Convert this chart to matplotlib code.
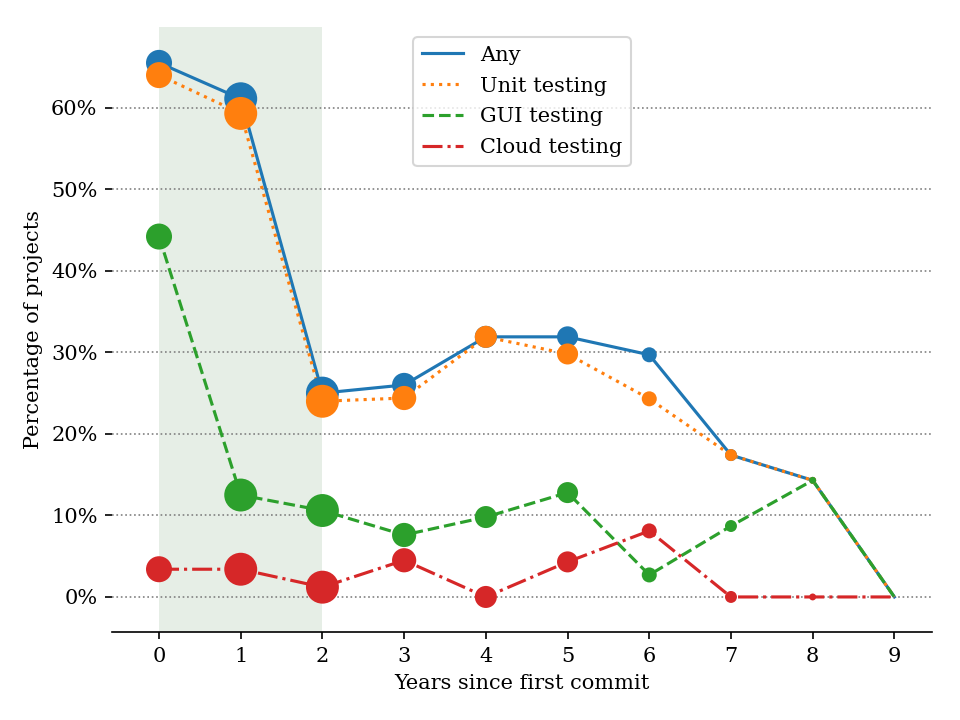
import matplotlib
matplotlib.use("Agg")
import matplotlib.pyplot as plt
from matplotlib.ticker import PercentFormatter

plt.rcParams["font.family"] = "DejaVu Serif"

# Years since first commit
years = [0, 1, 2, 3, 4, 5, 6, 7, 8, 9]

# Share of projects (fraction) per year
any_testing = [0.655, 0.611, 0.250, 0.260, 0.319, 0.319, 0.297, 0.174, 0.143, 0.0]
unit_testing = [0.640, 0.593, 0.240, 0.244, 0.319, 0.298, 0.243, 0.174, 0.143, 0.0]
gui_testing = [0.442, 0.125, 0.106, 0.076, 0.098, 0.128, 0.027, 0.087, 0.143, 0.0]
cloud_testing = [0.034, 0.034, 0.012, 0.045, 0.0, 0.043, 0.081, 0.0, 0.0, 0.0]

# Relative number of projects per year (used for marker area)
projects = [156, 250, 250, 135, 112, 102, 52, 33, 11, 0]

series = [
    ("Any", any_testing, "C0", "-"),
    ("Unit testing", unit_testing, "C1", ":"),
    ("GUI testing", gui_testing, "C2", "--"),
    ("Cloud testing", cloud_testing, "C3", "-."),
]

fig = plt.figure(figsize=(6.4, 4.8), dpi=150)
ax = fig.add_axes([0.1167, 0.1222, 0.8541, 0.8403])

# early period highlight
ax.axvspan(0, 2, color="#e6eee6", zorder=0, lw=0)

for label, values, color, ls in series:
    ax.plot(years, values, color=color, linestyle=ls, lw=1.5, label=label, zorder=2)
    ax.scatter(years, values, s=projects, color=color, zorder=3, linewidths=0)

ax.set_xlim(-0.575, 9.46)
ax.set_ylim(-0.043, 0.699)
ax.set_xticks(years)
ax.set_yticks([0, 0.1, 0.2, 0.3, 0.4, 0.5, 0.6])
ax.yaxis.set_major_formatter(PercentFormatter(1.0, decimals=0))
ax.grid(axis="y", color="0.5", linestyle=":", lw=0.8)
ax.set_axisbelow(True)

for side in ["top", "right", "left"]:
    ax.spines[side].set_visible(False)

ax.set_xlabel("Years since first commit")
ax.set_ylabel("Percentage of projects")
ax.legend(loc="upper center", labelspacing=0.57)

fig.savefig("out.png", dpi=150)
